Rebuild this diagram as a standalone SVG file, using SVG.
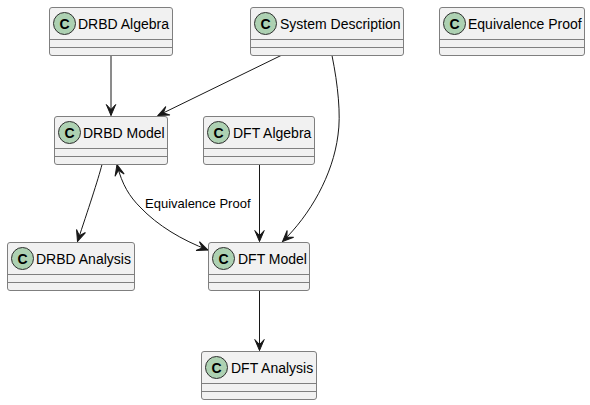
<svg xmlns="http://www.w3.org/2000/svg" width="590" height="405" viewBox="0 0 590 405">
<style>
text{font-family:"Liberation Sans",Arial,sans-serif;fill:#000}
.name{font-size:14px}
.lab{font-size:13px}
.box{fill:#F1F1F1;stroke:#7f7f7f;stroke-width:1}
.sep{stroke:#7f7f7f;stroke-width:1}
.spot{fill:#ADD1B2;stroke:#2f2f2f;stroke-width:1}
.c{font-size:14px;font-weight:bold;text-anchor:middle}
.edge{fill:none;stroke:#181818;stroke-width:1}
.end{marker-end:url(#arr)}
.start{marker-start:url(#arrS)}
</style>
<defs>
<marker id="arr" viewBox="-13 -7 14 14" refX="0" refY="0" markerWidth="14" markerHeight="14" markerUnits="userSpaceOnUse" orient="auto"><path d="M0 0L-11 -4.700L-6 0L-11 4.700Z" fill="#181818" stroke="#181818" stroke-width="1"/></marker>
<marker id="arrS" viewBox="-1 -7 14 14" refX="0" refY="0" markerWidth="14" markerHeight="14" markerUnits="userSpaceOnUse" orient="auto"><path d="M0 0L11 -4.700L6 0L11 4.700Z" fill="#181818" stroke="#181818" stroke-width="1"/></marker>
</defs>
<g id="connectors">
<path class="edge end" d="M111 55.500V115.500"/>
<path class="edge end" d="M281 55.500L158 115.500"/>
<path class="edge end" d="M332 55.500C338 85 341 115 338 135C333 175 310 215 282.500 241.500"/>
<path class="edge end" d="M102 164.500C98 180 88 210 77.500 241.500"/>
<path class="edge end start" d="M117 164.500C122 185 130 197 140 207C158 226 182 240 208 250"/>
<path class="edge end" d="M259.500 164.500V241.500"/>
<path class="edge end" d="M259.500 290.500V350.500"/>
<text class="lab" x="145" y="208">Equivalence Proof</text>
</g>
<g id="drbd-algebra"><rect class="box" x="49.500" y="7.500" width="123" height="48" rx="2.500"/><path class="sep" d="M49.500 39.500H172.500M49.500 47.500H172.500"/><circle class="spot" cx="64.500" cy="23.500" r="11"/><text class="c" x="64.500" y="28.500">C</text><text class="name" x="78" y="29">DRBD Algebra</text></g>
<g id="system-description"><rect class="box" x="250.500" y="7.500" width="153" height="48" rx="2.500"/><path class="sep" d="M250.500 39.500H403.500M250.500 47.500H403.500"/><circle class="spot" cx="265.500" cy="23.500" r="11"/><text class="c" x="265.500" y="28.500">C</text><text class="name" x="280" y="29">System Description</text></g>
<g id="equivalence-proof"><rect class="box" x="439.500" y="7.500" width="145" height="48" rx="2.500"/><path class="sep" d="M439.500 39.500H584.500M439.500 47.500H584.500"/><circle class="spot" cx="454.500" cy="23.500" r="11"/><text class="c" x="454.500" y="28.500">C</text><text class="name" x="468" y="29">Equivalence Proof</text></g>
<g id="drbd-model"><rect class="box" x="54.500" y="116.500" width="113" height="48" rx="2.500"/><path class="sep" d="M54.500 148.500H167.500M54.500 156.500H167.500"/><circle class="spot" cx="69.500" cy="132.500" r="11"/><text class="c" x="69.500" y="137.500">C</text><text class="name" x="83" y="138">DRBD Model</text></g>
<g id="dft-algebra"><rect class="box" x="203.500" y="116.500" width="111" height="48" rx="2.500"/><path class="sep" d="M203.500 148.500H314.500M203.500 156.500H314.500"/><circle class="spot" cx="218.500" cy="132.500" r="11"/><text class="c" x="218.500" y="137.500">C</text><text class="name" x="233" y="138">DFT Algebra</text></g>
<g id="drbd-analysis"><rect class="box" x="7.500" y="242.500" width="127" height="48" rx="2.500"/><path class="sep" d="M7.500 274.500H134.500M7.500 282.500H134.500"/><circle class="spot" cx="22.500" cy="258.500" r="11"/><text class="c" x="22.500" y="263.500">C</text><text class="name" x="36" y="264">DRBD Analysis</text></g>
<g id="dft-model"><rect class="box" x="208.500" y="242.500" width="101" height="48" rx="2.500"/><path class="sep" d="M208.500 274.500H309.500M208.500 282.500H309.500"/><circle class="spot" cx="223.500" cy="258.500" r="11"/><text class="c" x="223.500" y="263.500">C</text><text class="name" x="238" y="264">DFT Model</text></g>
<g id="dft-analysis"><rect class="box" x="201.500" y="351.500" width="115" height="48" rx="2.500"/><path class="sep" d="M201.500 383.500H316.500M201.500 391.500H316.500"/><circle class="spot" cx="216.500" cy="367.500" r="11"/><text class="c" x="216.500" y="372.500">C</text><text class="name" x="231" y="373">DFT Analysis</text></g>
</svg>
